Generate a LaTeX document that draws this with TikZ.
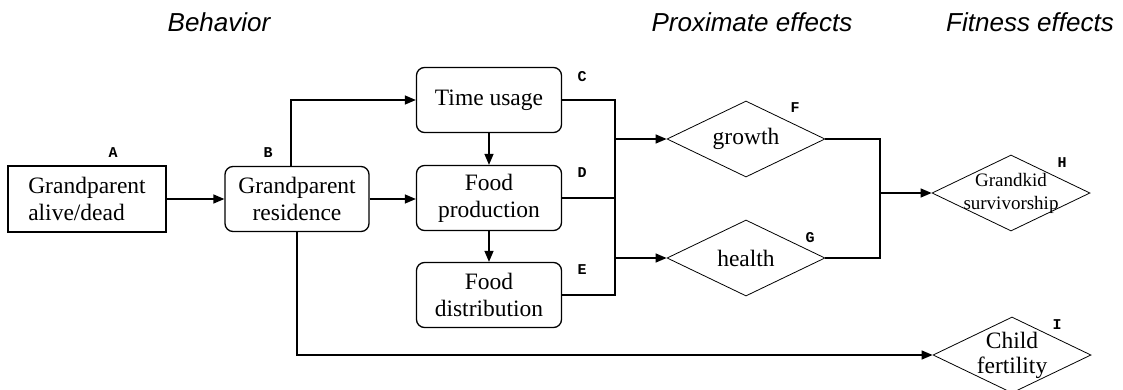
\documentclass[tikz,border=0pt]{standalone}
\usepackage{fontspec}
\setmainfont{Liberation Serif}
\newfontfamily\sansfnt{Liberation Sans}
\newfontfamily\tagfnt{Liberation Mono}
\usetikzlibrary{shapes.geometric, arrows.meta}
\tikzset{
 box/.style={draw, line width=1.3pt, minimum width=145pt, minimum height=65pt, inner sep=0pt, align=center, font=\fontsize{23.5}{27}\selectfont},
 rbox/.style={box, rounded corners=8pt},
 dmd/.style={draw, diamond, line width=0.8pt, minimum width=158pt, minimum height=76pt, inner sep=0pt},
 dtext/.style={font=\fontsize{23.5}{25}\selectfont, align=center, inner sep=0pt},
 tag/.style={font=\tagfnt\bfseries\fontsize{15}{15}\selectfont},
 head/.style={font=\sansfnt\itshape\fontsize{26}{30}\selectfont, anchor=base},
 ln/.style={line width=1.3pt},
 arr/.style={ln, -{Triangle[length=11pt,width=9pt]}}
}
\begin{document}
\begin{tikzpicture}[x=1pt, y=-1pt]
\useasboundingbox (0,0) rectangle (1123,389);
\node[head] (hB) at (219,31) {Behavior};
\node[head] (hP) at (752,31) {Proximate effects};
\node[head] (hF) at (1030,31) {Fitness effects};

\node[box, minimum width=158pt, minimum height=66pt, align=left] (A) at (87,199) {Grandparent\\alive/dead};
\node[rbox, minimum width=144pt] (B) at (297,199) {Grandparent\\residence};
\node[rbox] (C) at (489,100) {Time usage};
\node[rbox] (D) at (489,198) {Food\\production};
\node[rbox] (E) at (489,295) {Food\\distribution};

\node[dmd, label={[dtext]center:growth}] (F) at (746,139) {};
\node[dmd, label={[dtext]center:health}] (G) at (746,258) {};
\node[dmd, label={[dtext, font=\fontsize{19}{23}\selectfont]center:Grandkid\\survivorship}] (H) at (1011,193) {};
\node[dmd, label={[dtext]center:Child\\fertility}] (I) at (1012,355) {};

\node[tag] (tA) at (113,153) {A};
\node[tag] (tB) at (268,153) {B};
\node[tag] (tC) at (582,77) {C};
\node[tag] (tD) at (582,173) {D};
\node[tag] (tE) at (582,270) {E};
\node[tag] (tF) at (795,108) {F};
\node[tag] (tG) at (810,238) {G};
\node[tag] (tH) at (1062,163) {H};
\node[tag] (tI) at (1057,325) {I};

\coordinate (j1) at (615,0);
\coordinate (j2) at (880,0);

\draw[arr] (A) -- (B);
\draw[arr] ([xshift=-6pt]B.north) |- (C);
\draw[arr] (B.east) -- (B.east -| D.west);
\draw[arr] (B.south) |- (I);
\draw[arr] (C) -- (D);
\draw[arr] (D) -- (E);
\draw[ln] (C.east) -| (j1 |- E.east) -- (E.east);
\draw[ln] (D.east) -- (D.east -| j1);
\draw[arr] (j1 |- F) -- (F);
\draw[arr] (j1 |- G) -- (G);
\draw[ln] (F.east) -| (j2 |- G.east) -- (G.east);
\draw[arr] (j2 |- H) -- (H);
\end{tikzpicture}
\end{document}
